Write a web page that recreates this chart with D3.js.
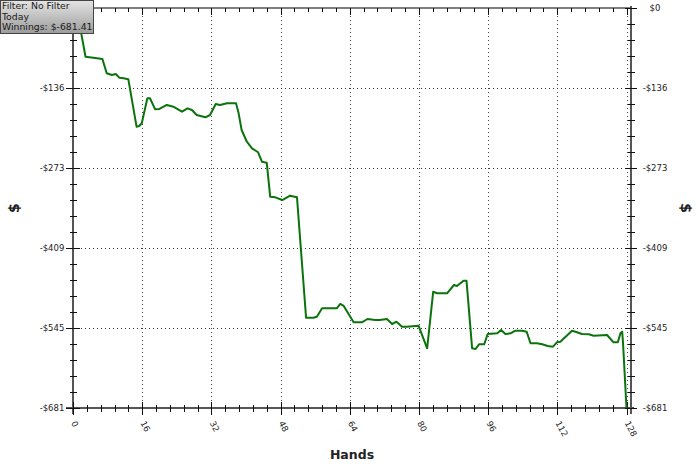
<!DOCTYPE html>
<html>
<head>
<meta charset="utf-8">
<script src="https://cdn.jsdelivr.net/npm/d3@7"></script>
<style>
  body { margin: 0; background: #fff; }
  svg { display: block; }
  text { font-family: "DejaVu Sans", sans-serif; }
</style>
</head>
<body>
<div id="chart"></div>
<script>
// traced hand / running winnings points
const hands = [0, 1, 2.9, 4.7, 6.8, 7.8, 9, 9.9, 10.7, 11.7, 12.8, 14.7, 15.3, 15.9, 17.2, 17.8,
  19, 20, 21.7, 23.2, 25.2, 26.5, 27.5, 28.6, 30.6, 31.7, 33, 34, 35.6, 37.7, 38.3, 39, 40.2,
  41.4, 42.8, 43.7, 44.8, 45.6, 46.8, 48.4, 50.2, 51.8, 53.9, 55.6, 56.4, 57.6, 61, 61.8, 62.6,
  64.9, 66.8, 68.1, 69.9, 70.9, 72.6, 73.8, 74.8, 76.1, 77.2, 79.9, 81.9, 83.3, 84.2, 86.5,
  88.1, 88.8, 90.3, 91, 92.3, 93.1, 93.9, 95.1, 95.9, 98.1, 99, 100, 101.2, 102.3, 103.9,
  104.9, 105.8, 107.3, 108.5, 109.8, 111, 111.9, 112.7, 115.4, 116.2, 117.7, 119.3, 120.4,
  123.5, 125, 126, 126.6, 127, 127.2, 128];
const winnings = [0, -7, -83, -84.7, -86.9, -111.2, -114.1, -112.4, -118.7, -119.8, -121.5,
  -202.2, -201, -196.4, -153.8, -153.8, -172.6, -172, -165.2, -168.1, -176.7, -170.9, -173.8,
  -182.3, -186.2, -182.3, -163.5, -165.2, -162.3, -162.3, -179.4, -207.8, -227.8, -239,
  -245.8, -261.8, -263.5, -321.5, -322.5, -327.1, -319.7, -322.5, -527.6, -527.6, -525.9,
  -511.6, -511.6, -504.2, -507.6, -535.4, -535.4, -529.8, -531.5, -531.5, -529.8, -538.3,
  -534.4, -542.9, -542.9, -541.2, -579.7, -483.3, -486, -486, -471.9, -473.6, -464.5,
  -464.5, -579.7, -580.9, -572.9, -572.9, -555.3, -554.2, -548.5, -555.3, -554.2, -549.7,
  -549.7, -551.4, -571.2, -571.2, -572.9, -575.8, -577, -569.5, -568.5, -549.7, -551.4,
  -555.3, -555.8, -558.2, -557, -569.5, -569.5, -554.2, -551.4, -571.2, -681.41];

const xTicks = [0, 16, 32, 48, 64, 80, 96, 112, 128];
const yTickLabels = ["$0", "-$136", "-$273", "-$409", "-$545", "-$681"];
const legendLines = ["Filter: No Filter", "Today", "Winnings: $-681.41"];

const width = 700, height = 469;
const plotLeft = 73, plotRight = 626.5, plotTop = 8, plotBottom = 408;
const rightAxisX = 631;
const yMin = -681.41;

const svg = d3.select("#chart").append("svg")
    .attr("width", width)
    .attr("height", height);

const x = d3.scaleLinear().domain([0, 128]).range([plotLeft, plotRight]);
const y = d3.scaleLinear().domain([yMin, 0]).range([plotBottom, plotTop]);

const yMajor = d3.range(6).map(i => yMin * i / 5);
const yMinor = d3.range(26).map(i => yMin * i / 25);
const xMinor = d3.range(41).map(i => i * 3.2);

// grid
svg.append("g").selectAll("line")
    .data(xTicks.slice(1))
    .join("line")
    .attr("x1", d => Math.round(x(d)) + 0.5).attr("x2", d => Math.round(x(d)) + 0.5)
    .attr("y1", plotTop).attr("y2", plotBottom)
    .attr("stroke", "#444")
    .attr("stroke-dasharray", "1,3");

svg.append("g").selectAll("line")
    .data(yMajor.slice(1, 5))
    .join("line")
    .attr("x1", plotLeft).attr("x2", rightAxisX)
    .attr("y1", d => Math.round(y(d)) + 0.5).attr("y2", d => Math.round(y(d)) + 0.5)
    .attr("stroke", "#333")
    .attr("stroke-dasharray", "1,3");

// axis lines
const axisG = svg.append("g").attr("stroke", "#555").attr("stroke-width", 2);
axisG.append("line").attr("x1", plotLeft).attr("x2", plotLeft).attr("y1", plotTop).attr("y2", plotBottom + 6);
axisG.append("line").attr("x1", rightAxisX).attr("x2", rightAxisX).attr("y1", plotTop - 2).attr("y2", plotBottom + 6);
axisG.append("line").attr("x1", 66).attr("x2", 634).attr("y1", plotBottom).attr("y2", plotBottom);
axisG.append("line").attr("x1", plotLeft).attr("x2", rightAxisX).attr("y1", plotTop).attr("y2", plotTop).attr("stroke-width", 1.5);

// ticks
const tickG = svg.append("g").attr("stroke", "#111").attr("stroke-width", 1);
const isMajorX = d => Math.abs(d / 16 - Math.round(d / 16)) < 1e-6;
xMinor.forEach(d => {
  const major = isMajorX(d);
  const xx = Math.round(x(d)) + 0.5;
  tickG.append("line").attr("x1", xx).attr("x2", xx)
      .attr("y1", major ? plotBottom - 6 : plotBottom - 3).attr("y2", major ? plotBottom + 7 : plotBottom + 4);
  tickG.append("line").attr("x1", xx).attr("x2", xx)
      .attr("y1", plotTop).attr("y2", major ? plotTop + 7 : plotTop + 4);
});
yMinor.forEach((d, i) => {
  const major = i % 5 === 0;
  const yy = Math.round(y(d)) + 0.5;
  tickG.append("line").attr("y1", yy).attr("y2", yy)
      .attr("x1", major ? plotLeft - 7 : plotLeft - 3).attr("x2", major ? plotLeft + 7 : plotLeft + 4);
  tickG.append("line").attr("y1", yy).attr("y2", yy)
      .attr("x1", major ? rightAxisX - 6 : rightAxisX - 3).attr("x2", major ? rightAxisX + 6 : rightAxisX + 4);
});

// tick labels (the left $0 sits under the info box)
svg.append("g").selectAll("text")
    .data(yMajor.slice(1))
    .join("text")
    .attr("x", 52)
    .attr("y", d => y(d) + 3)
    .attr("text-anchor", "middle")
    .attr("font-size", 8.5)
    .attr("fill", "#222")
    .text((d, i) => yTickLabels[i + 1]);

svg.append("g").selectAll("text")
    .data(yMajor)
    .join("text")
    .attr("x", 655)
    .attr("y", d => y(d) + 3)
    .attr("text-anchor", "middle")
    .attr("font-size", 8.5)
    .attr("fill", "#222")
    .text((d, i) => yTickLabels[i]);

svg.append("g").selectAll("text")
    .data(xTicks)
    .join("text")
    .attr("transform", d => `translate(${x(d) - 2},${plotBottom + 15}) rotate(62)`)
    .attr("text-anchor", "start")
    .attr("font-size", 8.5)
    .attr("fill", "#222")
    .text(d => d);

// axis titles
svg.append("text")
    .attr("x", 352).attr("y", 459)
    .attr("text-anchor", "middle")
    .attr("font-size", 12.5).attr("font-weight", "bold")
    .attr("fill", "#222")
    .text("Hands");

svg.append("text")
    .attr("transform", `translate(19,208) rotate(-90)`)
    .attr("text-anchor", "middle")
    .attr("font-size", 14).attr("font-weight", "bold")
    .attr("fill", "#222")
    .text("$");

svg.append("text")
    .attr("transform", `translate(681,208) rotate(90)`)
    .attr("text-anchor", "middle")
    .attr("font-size", 14).attr("font-weight", "bold")
    .attr("fill", "#222")
    .text("$");

// winnings line
const line = d3.line()
    .x((d, i) => x(hands[i]))
    .y(d => y(d));

svg.append("path")
    .datum(winnings)
    .attr("fill", "none")
    .attr("stroke", "#0b730b")
    .attr("stroke-width", 2)
    .attr("stroke-linejoin", "round")
    .attr("d", line);

// info box
const defs = svg.append("defs");
const grad = defs.append("linearGradient").attr("id", "boxgrad")
    .attr("x1", 0).attr("y1", 0).attr("x2", 0).attr("y2", 1);
grad.append("stop").attr("offset", "0%").attr("stop-color", "#e4e4e4");
grad.append("stop").attr("offset", "100%").attr("stop-color", "#9c9c9c");

const box = svg.append("g");
box.append("rect")
    .attr("x", 0.5).attr("y", 0.5)
    .attr("width", 93).attr("height", 33)
    .attr("fill", "url(#boxgrad)")
    .attr("stroke", "#444");
box.selectAll("text")
    .data(legendLines)
    .join("text")
    .attr("x", 2)
    .attr("y", (d, i) => 9 + i * 10.5)
    .attr("font-size", 9.3)
    .attr("fill", "#1a1a1a")
    .text(d => d);
</script>
</body>
</html>
